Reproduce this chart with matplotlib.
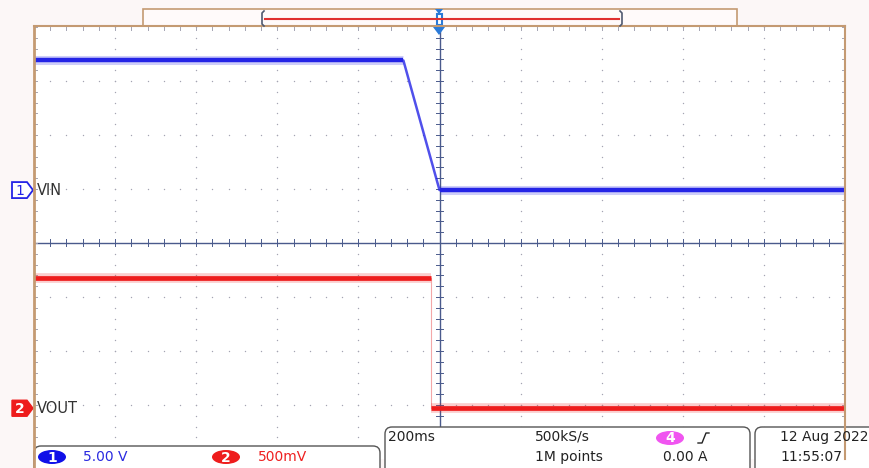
import numpy as np
import matplotlib
matplotlib.use("Agg")
import matplotlib.pyplot as plt
from matplotlib.patches import FancyBboxPatch, Polygon, Ellipse, Rectangle

# ---- data ----
vin_t = [-1000, -89, 0, 1000]        # ms
vin_v = [12.0, 12.0, 0.0, 0.0]       # V
vout_t = [-1000, -22, -22, 1000]     # ms
vout_v = [1.21, 1.21, 0.0, 0.0]      # V

time_div = 200.0    # ms/div
ch1_scale = 5.0     # V/div
ch2_scale = 0.5     # V/div
ch1_offset = 0.98   # div above centre
ch2_offset = -3.06  # div

W, H = 869, 468
BG = "#fcf7f7"
TAN = "#c49a72"
GRID = "#a4a4b2"
AXIS = "#4a5a8c"
BLUE = "#2424e6"
RED = "#ee1c1c"

fig = plt.figure(figsize=(W / 100, H / 100), dpi=100, facecolor=BG)

# plot area in pixels: x 34..845, y 27..459
L, R, T, B = 34, 845, 27, 459
ax = fig.add_axes([L / W, 1 - B / H, (R - L) / W, (B - T) / H])
ax.set_xlim(-5, 5)
ax.set_ylim(-4, 4)
ax.set_facecolor("white")
ax.set_xticks([])
ax.set_yticks([])
for s in ax.spines.values():
    s.set_visible(False)

# dotted graticule
minor = np.arange(-5, 5.001, 0.2)
minor_y = np.arange(-4, 4.001, 0.2)
for gx in range(-4, 5):
    if gx == 0:
        continue
    ax.scatter(np.full_like(minor_y, gx), minor_y, s=1.0, color=GRID, lw=0, zorder=1)
for gy in range(-3, 4):
    if gy == 0:
        continue
    ax.scatter(minor, np.full_like(minor, gy), s=1.0, color=GRID, lw=0, zorder=1)

# centre crosshair with ticks
ax.axhline(0, color=AXIS, lw=1.0, zorder=2)
ax.axvline(0, color=AXIS, lw=1.0, zorder=2)
tx = 3.5 / 54  # tick half-length in div (vertical)
ty = 3.5 / 81.1
for m in minor:
    ax.plot([m, m], [-tx, tx], color=AXIS, lw=0.7, zorder=2)
for m in minor_y:
    ax.plot([-ty, ty], [m, m], color=AXIS, lw=0.7, zorder=2)
# edge ticks
for m in minor:
    ax.plot([m, m], [4, 4 - tx], color=GRID, lw=0.7, zorder=2)
    ax.plot([m, m], [-4, -4 + tx], color=GRID, lw=0.7, zorder=2)
for m in minor_y:
    ax.plot([-5, -5 + ty], [m, m], color=GRID, lw=0.7, zorder=2)
    ax.plot([5, 5 - ty], [m, m], color=GRID, lw=0.7, zorder=2)

# traces
x1 = np.array(vin_t) / time_div
y1 = np.array(vin_v) / ch1_scale + ch1_offset
x2 = np.array(vout_t) / time_div
y2 = np.array(vout_v) / ch2_scale + ch2_offset

ax.plot(x1, y1, color=BLUE, lw=1.8, alpha=0.8, zorder=4)
for seg in (slice(0, 2), slice(2, 4)):
    ax.plot(x1[seg], y1[seg], color=BLUE, lw=6.5, alpha=0.22, zorder=4, solid_capstyle="butt")
    ax.plot(x1[seg], y1[seg], color=BLUE, lw=3.2, zorder=5, solid_capstyle="butt")

ax.plot(x2, y2, color="#f4a8a8", lw=0.8, zorder=4)
for seg in (slice(0, 2), slice(2, 4)):
    ax.plot(x2[seg], y2[seg], color=RED, lw=7, alpha=0.22, zorder=4, solid_capstyle="butt")
    ax.plot(x2[seg], y2[seg], color=RED, lw=3.4, zorder=5, solid_capstyle="butt")

# ---- overlay in pixel coordinates ----
ov = fig.add_axes([0, 0, 1, 1], zorder=10)
ov.set_xlim(0, W)
ov.set_ylim(H, 0)
ov.axis("off")
ov.patch.set_alpha(0)

# plot frame edges
ov.plot([L, L], [T - 1, H], color=TAN, lw=2.0)
ov.plot([L, R], [T - 1, T - 1], color=TAN, lw=1.5)
ov.plot([R, R], [T - 1, B], color=TAN, lw=1.5)

# record-length bar at top
ov.add_patch(Rectangle((143, 9), 594, 17, fc="#fffafa", ec=TAN, lw=1.2))
ov.plot([265, 619], [19, 19], color="#e03030", lw=1.5)
ov.plot([264, 262, 262, 264], [11, 13, 24, 26], color="#505a70", lw=1.2)
ov.plot([620, 622, 622, 620], [11, 13, 24, 26], color="#505a70", lw=1.2)
# trigger position markers
ov.add_patch(Polygon([[435, 9], [443, 9], [439, 14]], closed=True, fc="#2a7ad8", ec="none"))
ov.add_patch(Rectangle((436.5, 14), 5, 11, fc="white", ec="#2a7ad8", lw=1.5))
ov.add_patch(Polygon([[433, 27], [445, 27], [439, 35]], closed=True, fc="#2a7ad8", ec="none"))

# channel ground markers
y_vin = 243 - ch1_offset * 54
y_vout = 243 - ch2_offset * 54
ov.add_patch(Polygon([[12, y_vin - 8], [27, y_vin - 8], [33, y_vin], [27, y_vin + 8], [12, y_vin + 8]],
                     closed=True, fc="white", ec=BLUE, lw=1.3))
ov.text(20, y_vin + 0.5, "1", color=BLUE, fontsize=10, ha="center", va="center")
ov.text(37, y_vin, "VIN", color="#333333", fontsize=10.5, ha="left", va="center")
ov.add_patch(Polygon([[12, y_vout - 8], [27, y_vout - 8], [33, y_vout], [27, y_vout + 8], [12, y_vout + 8]],
                     closed=True, fc=RED, ec=RED, lw=1.0))
ov.text(20, y_vout + 0.5, "2", color="white", fontsize=10, fontweight="bold", ha="center", va="center")
ov.text(37, y_vout, "VOUT", color="#333333", fontsize=10.5, ha="left", va="center")

# status boxes
box_kw = dict(fc="white", ec="#555555", lw=1.0)
ov.add_patch(FancyBboxPatch((34, 446), 346, 30, boxstyle="round,pad=0,rounding_size=7", **box_kw))
ov.add_patch(FancyBboxPatch((385, 427), 365, 50, boxstyle="round,pad=0,rounding_size=7", **box_kw))
ov.add_patch(FancyBboxPatch((755, 427), 130, 50, boxstyle="round,pad=0,rounding_size=7", **box_kw))

ov.add_patch(Ellipse((52, 457), 28, 14, fc="#1010e8", ec="none"))
ov.text(52, 457.5, "1", color="white", fontsize=10, fontweight="bold", ha="center", va="center")
ov.text(83, 457, "5.00 V", color="#2a2ae0", fontsize=10, ha="left", va="center")
ov.add_patch(Ellipse((226, 457), 28, 14, fc="#ee1c1c", ec="none"))
ov.text(226, 457.5, "2", color="white", fontsize=10, fontweight="bold", ha="center", va="center")
ov.text(258, 457, "500mV", color="#ee2020", fontsize=10, ha="left", va="center")

ov.text(388, 437, "200ms", color="#222222", fontsize=10, ha="left", va="center")
ov.text(535, 437, "500kS/s", color="#222222", fontsize=10, ha="left", va="center")
ov.text(535, 457, "1M points", color="#222222", fontsize=10, ha="left", va="center")
ov.add_patch(Ellipse((670, 438), 28, 14, fc="#f055f0", ec="none"))
ov.text(670, 438.5, "4", color="white", fontsize=10, fontweight="bold", ha="center", va="center")
ov.plot([698, 702, 706, 709], [443, 443, 433, 433], color="#222222", lw=1.0)
ov.text(663, 457, "0.00 A", color="#222222", fontsize=10, ha="left", va="center")

ov.text(780, 437, "12 Aug 2022", color="#222222", fontsize=10, ha="left", va="center")
ov.text(780, 457, "11:55:07", color="#222222", fontsize=10, ha="left", va="center")

fig.savefig("out.png", dpi=100, facecolor=BG)
